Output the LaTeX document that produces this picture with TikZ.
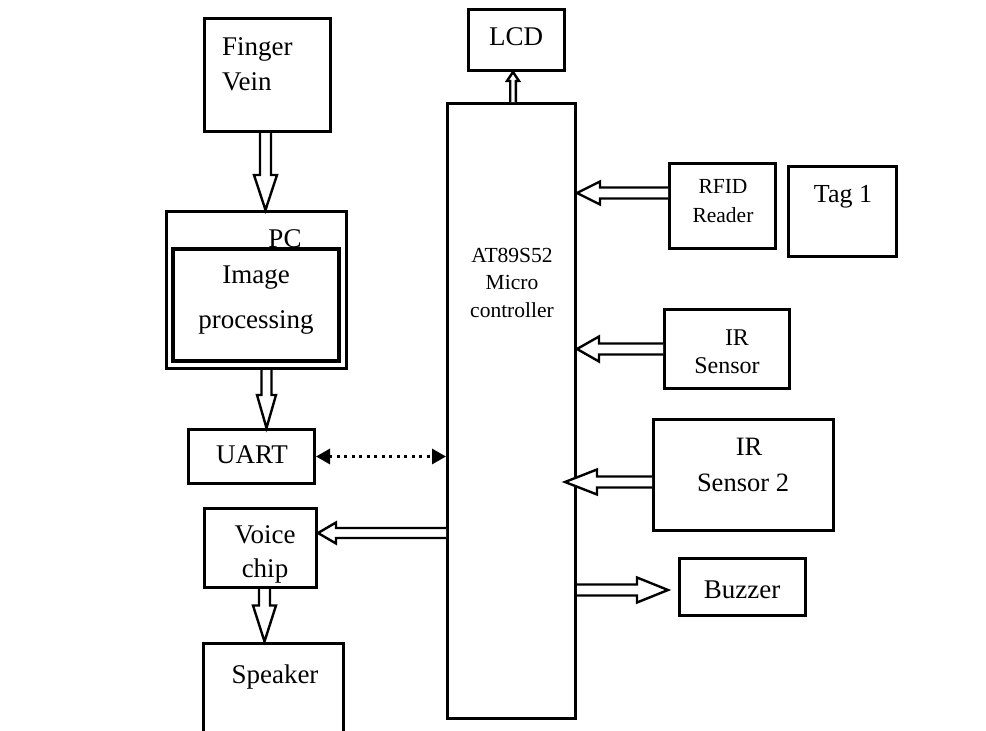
\documentclass[tikz,border=0pt]{standalone}
\usepackage{fontspec}
\setmainfont{Liberation Serif}
\usetikzlibrary{calc,arrows.meta}
\tikzset{
  box/.style={draw=black, line width=3pt, fill=white, inner sep=0pt},
  harr/.style={draw=black, line width=2.4pt, fill=white, line join=miter},
  big/.style={font=\fontsize{27}{32}\selectfont, inner sep=0pt, anchor=base},
  mid/.style={font=\fontsize{24}{28}\selectfont, inner sep=0pt, anchor=base},
  sml/.style={font=\fontsize{21.5}{25}\selectfont, inner sep=0pt, anchor=base},
  dotarrow/.style={line width=3pt, dash pattern=on 3pt off 4.5pt,
    {Triangle[length=14pt,width=15pt]}-{Triangle[length=14pt,width=15pt]}}
}
% #1 head length, #2 half shaft width, #3 half head width, #4 from, #5 to
\newcommand{\harrow}[5]{%
  \draw[harr] let \p1=(#4), \p2=(#5), \n1={atan2(\y2-\y1,\x2-\x1)} in
    ($(\p1)+(\n1+90:#2pt)$)
    -- ($(\p2)+(\n1+180:#1pt)+(\n1+90:#2pt)$)
    -- ($(\p2)+(\n1+180:#1pt)+(\n1+90:#3pt)$)
    -- (\p2)
    -- ($(\p2)+(\n1+180:#1pt)+(\n1-90:#3pt)$)
    -- ($(\p2)+(\n1+180:#1pt)+(\n1-90:#2pt)$)
    -- ($(\p1)+(\n1-90:#2pt)$);}
\begin{document}
\begin{tikzpicture}[x=1pt,y=-1pt]
\path[use as bounding box, clip] (0,0) rectangle (986,731);
\fill[white] (0,0) rectangle (986,731);

% boxes
\node[box, minimum width=126, minimum height=113] (finger) at (267.5,75) {};
\node[box, minimum width=180, minimum height=157] (pc) at (256.5,290) {};
\node[big] (pclbl) at (285,247) {PC};
\node[box, line width=4.5pt, minimum width=166, minimum height=112] (img) at (256,305) {};
\node[box, minimum width=126, minimum height=54] (uart) at (251.5,456.5) {};
\node[box, minimum width=112, minimum height=79] (voice) at (260.5,548) {};
\node[box, minimum width=140, minimum height=118] (speaker) at (273.5,702) {};
\node[box, minimum width=128, minimum height=615] (mcu) at (511.5,411) {};
\node[box, minimum width=96, minimum height=61] (lcd) at (516.5,40) {};
\node[box, minimum width=106, minimum height=85] (rfid) at (722.5,206) {};
\node[box, minimum width=108, minimum height=90] (tag) at (842.5,211.5) {};
\node[box, minimum width=125, minimum height=79] (irs) at (727,349) {};
\node[box, minimum width=180, minimum height=111] (irs2) at (743.5,475) {};
\node[box, minimum width=126, minimum height=57] (buzzer) at (742.5,587) {};

% texts
\node[big, anchor=base west] (t1) at (222,55) {Finger};
\node[big, anchor=base west] (t2) at (222,90) {Vein};
\node[big] (t3) at (256,283) {Image};
\node[big] (t4) at (256,328) {processing};
\node[big] (t5) at (252,463) {UART};
\node[big] (t6) at (265,543) {Voice};
\node[big] (t7) at (265,577) {chip};
\node[big] (t8) at (275,683) {Speaker};
\node[big] (t9) at (516,45) {LCD};
\node[sml] (t10) at (512,262) {AT89S52};
\node[sml] (t11) at (512,289) {Micro};
\node[sml] (t12) at (512,317) {controller};
\node[sml] (t13) at (723,193) {RFID};
\node[sml] (t14) at (723,222) {Reader};
\node[font=\fontsize{26}{30}\selectfont, inner sep=0pt, anchor=base] (t15) at (843,202) {Tag 1};
\node[mid] (t16) at (737,345) {IR};
\node[mid] (t17) at (727,373) {Sensor};
\node[font=\fontsize{26.5}{30}\selectfont, inner sep=0pt, anchor=base] (t18) at (749,455) {IR};
\node[font=\fontsize{26.5}{30}\selectfont, inner sep=0pt, anchor=base] (t19) at (743,491) {Sensor 2};
\node[big] (t20) at (742,598) {Buzzer};

% connector points
\coordinate (fv) at ($(finger.south)+(-2,0)$);
\coordinate (p2u) at ($(pc.south)+(10,0)$);
\coordinate (v2s) at ($(voice.south)+(4,0)$);
\coordinate (m2v) at ($(voice.east)+(0,-15)$);
\coordinate (m2l) at ($(mcu.north)+(1.5,0)$);
\coordinate (r2m) at ($(rfid.west)+(0,-13)$);
\coordinate (i2m) at ($(irs2.west)+(0,7)$);
\coordinate (i2mt) at ($(mcu.east |- i2m)+(-12,0)$);
\coordinate (b2m) at ($(mcu.east |- buzzer.west)+(0,3)$);
\coordinate (b2t) at ($(buzzer.west)+(-10,3)$);

% arrows
\harrow{35}{5.5}{11.5}{fv}{fv |- pc.north}
\harrow{33}{5}{9.5}{p2u}{p2u |- uart.north}
\harrow{36}{5.5}{11.5}{v2s}{v2s |- speaker.north}
\harrow{18}{5}{10.5}{mcu.west |- m2v}{m2v}
\harrow{9}{2.8}{6}{m2l}{m2l |- lcd.south}
\harrow{23}{5.5}{11.5}{r2m}{mcu.east |- r2m}
\harrow{22}{5.5}{12.5}{irs.west}{mcu.east |- irs.west}
\harrow{32}{5.5}{12.5}{i2m}{i2mt}
\harrow{31}{5.5}{12.5}{b2m}{b2t}
\draw[dotarrow] (uart.east) -- (uart.east -| mcu.west);
\end{tikzpicture}
\end{document}
